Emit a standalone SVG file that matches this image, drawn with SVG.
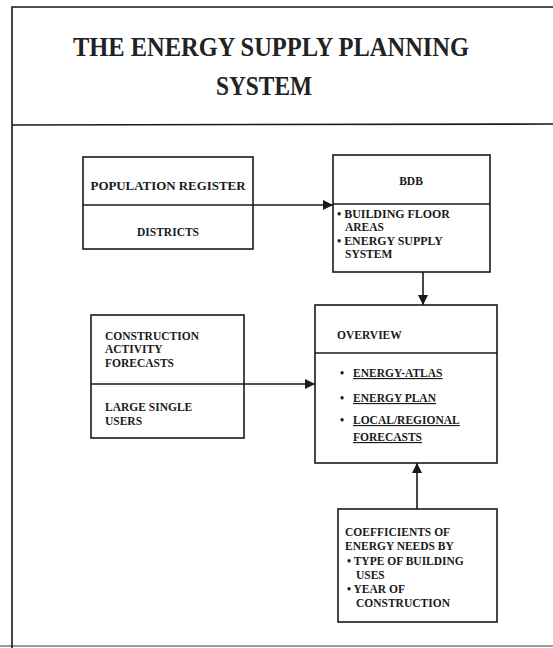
<svg xmlns="http://www.w3.org/2000/svg" width="553" height="648" viewBox="0 0 553 648">
  <style>
    .frame { fill: none; stroke: #1a1a1a; stroke-width: 1.6; }
    .box { fill: #ffffff; stroke: #1a1a1a; stroke-width: 1.6; }
    .div { stroke: #1a1a1a; stroke-width: 1.6; }
    .conn { stroke: #1a1a1a; stroke-width: 1.6; fill: none; }
    .title { font-family: "Liberation Serif", "Times New Roman", serif; font-weight: bold; font-size: 28px; fill: #222222; }
    .t { font-family: "Liberation Serif", "Times New Roman", serif; font-weight: bold; font-size: 11.5px; fill: #1a1a1a; }
    .u { text-decoration: underline; }
  </style>
  <defs>
    <marker id="arrow" viewBox="0 0 10 10" refX="10" refY="5" markerWidth="10" markerHeight="10" markerUnits="userSpaceOnUse" orient="auto">
      <path d="M0,0 L10,5 L0,10 z" fill="#1a1a1a"/>
    </marker>
  </defs>
  <rect width="553" height="648" fill="#ffffff"/>

  <!-- outer frame and header -->
  <g id="frame">
    <path class="frame" d="M12,648 L12,7 L553,7"/>
    <line class="div" x1="12" y1="125" x2="553" y2="124"/>
    <line class="div" x1="0" y1="646" x2="553" y2="646" stroke-opacity="0.6"/>
    <text class="title" x="271" y="56" text-anchor="middle" textLength="396" lengthAdjust="spacingAndGlyphs">THE ENERGY SUPPLY PLANNING</text>
    <text class="title" x="264" y="95" text-anchor="middle" textLength="96" lengthAdjust="spacingAndGlyphs">SYSTEM</text>
  </g>

  <!-- connectors -->
  <g id="connectors">
    <line class="conn" x1="253" y1="205" x2="333" y2="205" marker-end="url(#arrow)"/>
    <line class="conn" x1="423" y1="272" x2="423" y2="305" marker-end="url(#arrow)"/>
    <line class="conn" x1="244" y1="384" x2="315" y2="384" marker-end="url(#arrow)"/>
    <line class="conn" x1="417" y1="509" x2="417" y2="463" marker-end="url(#arrow)"/>
  </g>

  <g id="population">
    <rect class="box" x="83" y="157" width="170" height="92"/>
    <line class="div" x1="83" y1="205" x2="253" y2="205"/>
    <text class="t" x="168" y="190" text-anchor="middle" textLength="155" lengthAdjust="spacingAndGlyphs">POPULATION REGISTER</text>
    <text class="t" x="168" y="236" text-anchor="middle">DISTRICTS</text>
  </g>

  <g id="bdb">
    <rect class="box" x="333" y="155" width="157" height="117"/>
    <line class="div" x1="333" y1="204" x2="490" y2="204"/>
    <text class="t" x="411" y="185" text-anchor="middle" font-size="13">BDB</text>
    <text class="t" x="337" y="218" textLength="113" lengthAdjust="spacingAndGlyphs">• BUILDING FLOOR</text>
    <text class="t" x="345" y="231">AREAS</text>
    <text class="t" x="337" y="245" textLength="106" lengthAdjust="spacingAndGlyphs">• ENERGY SUPPLY</text>
    <text class="t" x="345" y="258">SYSTEM</text>
  </g>

  <g id="construction">
    <rect class="box" x="91" y="315" width="153" height="123"/>
    <line class="div" x1="91" y1="384" x2="244" y2="384"/>
    <text class="t" x="105" y="340">CONSTRUCTION</text>
    <text class="t" x="105" y="353">ACTIVITY</text>
    <text class="t" x="105" y="367">FORECASTS</text>
    <text class="t" x="105" y="411">LARGE SINGLE</text>
    <text class="t" x="105" y="425">USERS</text>
  </g>

  <g id="overview">
    <rect class="box" x="315" y="305" width="182" height="158"/>
    <line class="div" x1="315" y1="353" x2="497" y2="353"/>
    <text class="t" x="337" y="339">OVERVIEW</text>
    <text class="t" x="340" y="377">•</text>
    <text class="t u" x="353" y="377">ENERGY-ATLAS</text>
    <text class="t" x="340" y="402">•</text>
    <text class="t u" x="353" y="402">ENERGY PLAN</text>
    <text class="t" x="340" y="424">•</text>
    <text class="t u" x="353" y="424">LOCAL/REGIONAL</text>
    <text class="t u" x="353" y="441">FORECASTS</text>
  </g>

  <g id="coefficients">
    <rect class="box" x="338" y="509" width="159" height="113"/>
    <text class="t" x="345" y="536">COEFFICIENTS OF</text>
    <text class="t" x="345" y="550">ENERGY NEEDS  BY</text>
    <text class="t" x="347" y="565">• TYPE OF BUILDING</text>
    <text class="t" x="356" y="579">USES</text>
    <text class="t" x="347" y="593">• YEAR OF</text>
    <text class="t" x="356" y="607">CONSTRUCTION</text>
  </g>
</svg>
